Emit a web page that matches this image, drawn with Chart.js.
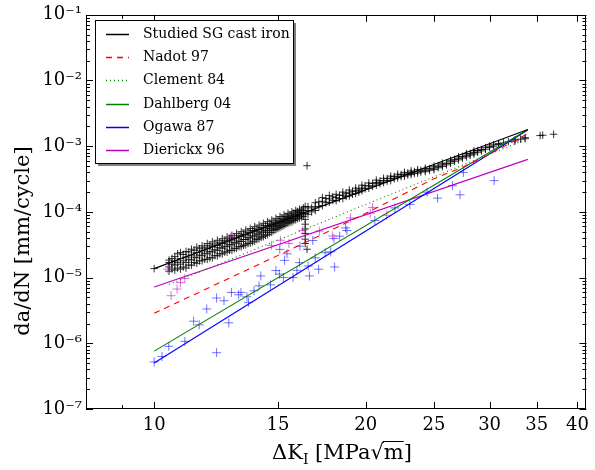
<!DOCTYPE html>
<html>
<head>
<meta charset="utf-8">
<script src="https://cdn.jsdelivr.net/npm/chart.js@4.4.0/dist/chart.umd.min.js"></script>
<style>
  html, body { margin: 0; padding: 0; background: #fff; }
  #wrap { width: 595px; height: 470px; }
</style>
</head>
<body>
<div id="wrap"><canvas id="crackChart" width="595" height="470"></canvas></div>
<script>
// tick labels
const xTickValues = [10, 15, 20, 25, 30, 35, 40];
const xTickLabels = ['10', '15', '20', '25', '30', '35', '40'];
const xMinorTicks = [9];
const yTickValues = [1e-7, 1e-6, 1e-5, 1e-4, 1e-3, 1e-2, 1e-1];
const yTickLabels = ['10\u207B\u2077', '10\u207B\u2076', '10\u207B\u2075', '10\u207B\u2074', '10\u207B\u00B3', '10\u207B\u00B2', '10\u207B\u00B9'];

const seriesLabels = ['Studied SG cast iron', 'Nadot 97', 'Clement 84', 'Dahlberg 04', 'Ogawa 87', 'Dierickx 96'];
const seriesColors = ['#000000', '#ff0000', '#008000', '#008000', '#0000ff', '#bf00bf'];

// studied SG cast iron: dK values, each with the crack rates read at it
const studiedX = [10.0, 10.5, 10.6, 10.7, 10.8, 10.9, 11.0, 11.1, 11.2, 11.3, 11.4, 11.5, 11.6, 11.7, 11.8,
  11.9, 12.0, 12.1, 12.2, 12.3, 12.4, 12.5, 12.6, 12.7, 12.8, 12.9, 13.0, 13.1, 13.2, 13.3, 13.4, 13.5,
  13.6, 13.7, 13.8, 13.9, 14.0, 14.1, 14.2, 14.3, 14.4, 14.5, 14.6, 14.7, 14.8, 14.9, 15.0, 15.1, 15.2,
  15.3, 15.4, 15.5, 15.6, 15.7, 15.8, 15.9, 16.0, 16.1, 16.2, 16.3, 16.4, 16.5,
  16.55, 16.75, 16.95, 17.15, 17.35, 17.55, 17.75, 17.95, 18.15, 18.35, 18.55, 18.75, 18.95, 19.15, 19.35,
  19.55, 19.75, 19.95, 20.2, 20.45, 20.7, 20.95, 21.2, 21.45, 21.7, 21.95, 22.2, 22.45, 22.7, 22.95, 23.2,
  23.45, 23.7, 23.95, 24.3, 24.65, 25.0, 25.35, 25.7, 26.05, 26.4, 26.75, 27.1, 27.45, 27.8, 28.15, 28.5,
  28.85, 29.2, 29.6, 30.0, 30.4, 30.9, 31.4, 31.9, 32.6, 33.2, 33.7, 35.4, 35.7, 37.0];
const studiedY = [
  [1.37e-5], [1.25e-5, 1.45e-5, 1.7e-5, 1.85e-5], [1.35e-5, 1.6e-5, 1.95e-5], [1.3e-5, 1.55e-5, 1.8e-5, 2.1e-5],
  [1.4e-5, 1.7e-5, 2.3e-5], [1.35e-5, 1.6e-5, 1.95e-5, 2.4e-5], [1.45e-5, 1.8e-5, 2.25e-5],
  [1.4e-5, 1.7e-5, 2.05e-5, 2.5e-5], [1.55e-5, 1.9e-5, 2.45e-5], [1.55e-5, 1.85e-5, 2.2e-5, 2.7e-5],
  [1.7e-5, 2.05e-5, 2.6e-5], [1.65e-5, 2.0e-5, 2.4e-5, 2.9e-5], [1.8e-5, 2.2e-5, 2.75e-5],
  [1.8e-5, 2.15e-5, 2.55e-5, 3.05e-5], [1.9e-5, 2.35e-5, 2.9e-5], [1.9e-5, 2.3e-5, 2.75e-5, 3.3e-5],
  [2.0e-5, 2.5e-5, 3.1e-5], [2.0e-5, 2.45e-5, 2.95e-5, 3.5e-5], [2.15e-5, 2.65e-5, 3.25e-5],
  [2.15e-5, 2.6e-5, 3.1e-5, 3.7e-5], [2.3e-5, 2.85e-5, 3.45e-5], [2.3e-5, 2.8e-5, 3.3e-5, 3.9e-5],
  [2.45e-5, 3.0e-5, 3.65e-5], [2.45e-5, 2.95e-5, 3.5e-5, 4.15e-5], [2.6e-5, 3.2e-5, 3.9e-5],
  [2.6e-5, 3.15e-5, 3.75e-5, 4.4e-5], [2.75e-5, 3.4e-5, 4.1e-5], [2.8e-5, 3.35e-5, 4.0e-5, 4.7e-5],
  [2.95e-5, 3.6e-5, 4.35e-5], [2.95e-5, 3.55e-5, 4.25e-5, 5.0e-5], [3.1e-5, 3.8e-5, 4.6e-5],
  [3.15e-5, 3.8e-5, 4.5e-5, 5.3e-5], [3.3e-5, 4.05e-5, 4.9e-5], [3.35e-5, 4.0e-5, 4.8e-5, 5.6e-5],
  [3.5e-5, 4.3e-5, 5.2e-5], [3.6e-5, 4.3e-5, 5.1e-5, 5.95e-5], [3.8e-5, 4.6e-5, 5.5e-5],
  [3.9e-5, 4.6e-5, 5.4e-5, 6.3e-5], [4.1e-5, 4.9e-5, 5.8e-5], [4.2e-5, 4.95e-5, 5.7e-5, 6.7e-5],
  [4.4e-5, 5.2e-5, 6.2e-5], [4.5e-5, 5.3e-5, 6.05e-5, 7.1e-5], [4.8e-5, 5.6e-5, 6.6e-5],
  [4.9e-5, 5.7e-5, 6.4e-5, 7.5e-5], [5.2e-5, 6.0e-5, 7.0e-5], [5.4e-5, 6.2e-5, 6.8e-5, 8.0e-5],
  [5.6e-5, 6.5e-5, 7.5e-5], [5.8e-5, 6.6e-5, 7.2e-5, 8.5e-5], [6.0e-5, 6.9e-5, 8.0e-5],
  [6.2e-5, 7.1e-5, 7.7e-5, 9.0e-5], [6.5e-5, 7.4e-5, 8.5e-5], [6.7e-5, 7.6e-5, 8.2e-5, 9.5e-5],
  [6.9e-5, 7.9e-5, 9.0e-5], [7.1e-5, 8.0e-5, 8.7e-5, 1.0e-4], [7.4e-5, 8.4e-5, 9.6e-5],
  [7.6e-5, 8.5e-5, 9.2e-5, 1.05e-4], [7.9e-5, 8.9e-5, 1.01e-4], [8.1e-5, 9.0e-5, 9.8e-5, 1.1e-4],
  [8.4e-5, 9.4e-5, 1.06e-4], [8.6e-5, 9.6e-5, 1.04e-4, 1.15e-4],
  [1.21e-4, 9.5e-5, 7.7e-5, 6.5e-5, 5.5e-5, 4.7e-5, 3.85e-5, 3.3e-5], [2.7e-5, 5.05e-4],
  [0.92e-4, 1.05e-4, 1.2e-4], [1.0e-4, 1.15e-4], [1.05e-4, 1.2e-4, 1.38e-4], [1.2e-4, 1.42e-4],
  [1.25e-4, 1.45e-4, 1.65e-4], [1.38e-4, 1.6e-4], [1.4e-4, 1.58e-4, 1.78e-4], [1.5e-4, 1.7e-4],
  [1.48e-4, 1.65e-4, 1.85e-4], [1.6e-4, 1.78e-4], [1.6e-4, 1.8e-4, 2.0e-4], [1.72e-4, 1.92e-4],
  [1.75e-4, 1.95e-4, 2.15e-4], [1.85e-4, 2.05e-4], [1.9e-4, 2.1e-4, 2.3e-4], [2.0e-4, 2.22e-4],
  [2.1e-4, 2.3e-4, 2.55e-4], [2.25e-4, 2.5e-4], [2.3e-4, 2.5e-4, 2.75e-4], [2.45e-4, 2.7e-4],
  [2.55e-4, 2.8e-4, 3.05e-4], [2.7e-4, 2.95e-4], [2.8e-4, 3.0e-4, 3.25e-4], [2.95e-4, 3.2e-4],
  [3.0e-4, 3.25e-4, 3.5e-4], [3.2e-4, 3.45e-4], [3.3e-4, 3.5e-4, 3.75e-4], [3.45e-4, 3.7e-4],
  [3.5e-4, 3.75e-4, 4.0e-4], [3.65e-4, 3.9e-4], [3.7e-4, 3.95e-4, 4.2e-4], [3.85e-4, 4.1e-4],
  [3.9e-4, 4.15e-4, 4.4e-4], [4.05e-4, 4.3e-4], [4.1e-4, 4.35e-4, 4.6e-4], [4.3e-4, 4.55e-4],
  [4.4e-4, 4.65e-4, 4.95e-4], [4.7e-4, 5.0e-4], [4.9e-4, 5.2e-4, 5.5e-4], [5.2e-4, 5.5e-4],
  [5.5e-4, 5.8e-4, 6.1e-4], [5.9e-4, 6.3e-4], [6.2e-4, 6.55e-4, 6.9e-4], [6.6e-4, 7.0e-4],
  [6.9e-4, 7.3e-4, 7.7e-4], [7.3e-4, 7.7e-4], [7.6e-4, 8.0e-4, 8.5e-4], [8.1e-4, 8.6e-4],
  [8.5e-4, 8.9e-4], [9.0e-4, 9.5e-4], [9.6e-4, 1.0e-3], [1.0e-3, 1.05e-3], [1.06e-3, 1.1e-3],
  [1.12e-3], [1.17e-3], [1.2e-3, 1.25e-3], [1.28e-3], [1.3e-3, 1.35e-3], [1.45e-3], [1.47e-3], [1.52e-3]];

// Ogawa 87 data (blue crosses)
const ogawaX = [10.0, 10.26, 10.49, 11.06, 12.27, 11.38, 11.59, 11.88, 12.27, 12.57, 12.77, 12.88, 13.19, 13.29,
  13.55, 13.62, 13.87, 14.1, 14.18, 14.64, 14.9, 15.07, 15.09, 15.33, 15.45, 15.27, 15.76, 15.96, 16.09,
  16.12, 16.63, 16.56, 16.81, 16.95, 17.14, 17.51, 17.83, 18.02, 18.06, 18.36, 18.72, 18.8, 20.6, 22.0,
  23.1, 24.45, 25.3, 26.57, 27.23, 27.53, 30.45];
const ogawaY = [5.2e-7, 6.3e-7, 9.0e-7, 1.07e-6, 7.2e-7, 2.17e-6, 1.91e-6, 3.33e-6, 4.89e-6, 4.45e-6, 2.05e-6, 5.94e-6, 5.48e-6, 5.94e-6,
  5.11e-6, 4.2e-6, 6.3e-6, 7.5e-6, 1.06e-5, 7.77e-6, 1.28e-5, 1.13e-5, 2.69e-5, 1.83e-5, 2.3e-5, 1.0e-5, 1.0e-5, 1.29e-5, 1.69e-5,
  3.01e-5, 1.06e-5, 1.5e-5, 3.67e-5, 2.0e-5, 1.34e-5, 2.39e-5, 2.47e-5, 3.94e-5, 1.45e-5, 4.27e-5, 5.7e-5, 5.2e-5, 7.4e-5, 1.15e-4,
  1.3e-4, 1.99e-4, 1.62e-4, 2.51e-4, 1.82e-4, 3.99e-4, 2.99e-4];

// Dierickx 96 data (magenta crosses)
const dierickxX = [10.46, 10.9, 11.06, 10.78, 10.57, 12.84, 14.69, 15.12, 15.55, 16.27, 17.18, 17.93, 19.02, 20.45, 20.3, 21.42];
const dierickxY = [1.34e-5, 8.4e-6, 9.7e-6, 6.7e-6, 5.3e-6, 4.1e-5, 3.1e-5, 3.7e-5, 3.3e-5, 5.2e-5, 5.1e-5, 4.3e-5, 8.1e-5, 1.17e-4, 9.6e-5, 8.9e-5];

// fitted laws
const studiedFitX = [10, 34];
const studiedFitY = [1.37e-5, 1.8e-3];
const nadotX = [10, 15.9, 20, 25, 27.6, 29.8, 34];
const nadotY = [2.86e-6, 2.91e-5, 9.5e-5, 3.2e-4, 4.9e-4, 7.3e-4, 1.55e-3];
const clementX = [10.5, 34];
const clementY = [7.9e-6, 1.3e-3];
const dahlbergX = [10, 34];
const dahlbergY = [7.6e-7, 1.8e-3];
const ogawaFitX = [10, 34];
const ogawaFitY = [5.0e-7, 1.76e-3];
const dierickxFitX = [10, 34];
const dierickxFitY = [7.2e-6, 6.3e-4];

const FONT = 'DejaVu Serif';

function pairs(xs, ys) {
    return xs.map(function (v, i) { return { x: v, y: ys[i] }; });
}

function groupedPairs(xs, groups) {
    const out = [];
    xs.forEach(function (v, i) {
        groups[i].forEach(function (g) { out.push({ x: v, y: g }); });
    });
    return out;
}

function lineSet(i, xs, ys, dash) {
    return {
        label: seriesLabels[i],
        data: pairs(xs, ys),
        showLine: true,
        borderColor: seriesColors[i],
        borderWidth: 1.1,
        borderDash: dash,
        pointRadius: 0,
        fill: false,
        order: i + 1
    };
}

function crossSet(data, color, radius, order) {
    return {
        label: '',
        data: data,
        showLine: false,
        pointStyle: 'cross',
        pointRadius: radius,
        borderColor: color,
        pointBorderWidth: 1,
        order: order
    };
}

const lineSets = [
    lineSet(0, studiedFitX, studiedFitY, []),
    lineSet(1, nadotX, nadotY, [6, 5]),
    lineSet(2, clementX, clementY, [1, 3]),
    lineSet(3, dahlbergX, dahlbergY, []),
    lineSet(4, ogawaFitX, ogawaFitY, []),
    lineSet(5, dierickxFitX, dierickxFitY, [])
];

// frame, inward ticks, titles and boxed legend
const framePlugin = {
    id: 'framePlugin',
    afterDraw: function (chart) {
        const ctx = chart.ctx;
        const a = chart.chartArea;
        const xs = chart.scales.x;
        const ys = chart.scales.y;
        ctx.save();
        ctx.strokeStyle = '#000';
        ctx.lineWidth = 1;
        ctx.setLineDash([]);
        ctx.strokeRect(Math.round(a.left) + 0.5, Math.round(a.top) + 0.5,
            Math.round(a.right - a.left) - 1, Math.round(a.bottom - a.top) - 1);

        function xTick(v, len) {
            const px = Math.round(xs.getPixelForValue(v)) + 0.5;
            ctx.beginPath();
            ctx.moveTo(px, a.bottom); ctx.lineTo(px, a.bottom - len);
            ctx.moveTo(px, a.top); ctx.lineTo(px, a.top + len);
            ctx.stroke();
        }
        function yTick(v, len) {
            const py = Math.round(ys.getPixelForValue(v)) + 0.5;
            ctx.beginPath();
            ctx.moveTo(a.left, py); ctx.lineTo(a.left + len, py);
            ctx.moveTo(a.right, py); ctx.lineTo(a.right - len, py);
            ctx.stroke();
        }
        xTickValues.forEach(function (v) { xTick(v, 7); });
        xMinorTicks.forEach(function (v) { xTick(v, 4); });
        for (let d = -7; d < -1; d++) {
            for (let m = 2; m <= 9; m++) yTick(m * Math.pow(10, d), 4);
        }
        yTickValues.forEach(function (v) { yTick(v, 7); });

        // y title
        ctx.fillStyle = '#000';
        ctx.save();
        ctx.translate(24, 241);
        ctx.rotate(-Math.PI / 2);
        ctx.font = '21px "' + FONT + '"';
        ctx.textAlign = 'center';
        ctx.textBaseline = 'middle';
        ctx.fillText('da/dN [mm/cycle]', 0, 0);
        ctx.restore();

        // x title: dK_I [MPa sqrt(m)]
        const big = '21px "' + FONT + '"';
        const small = '14px "' + FONT + '"';
        ctx.textBaseline = 'alphabetic';
        ctx.textAlign = 'left';
        ctx.font = big;
        const w1 = ctx.measureText('\u0394K').width;
        const w3 = ctx.measureText(' [MPa\u221A').width;
        const wm = ctx.measureText('m').width;
        const w4 = ctx.measureText(']').width;
        ctx.font = small;
        const w2 = ctx.measureText('I').width;
        const total = w1 + w2 + w3 + wm + w4;
        let cx = 342 - total / 2;
        const base = 459;
        ctx.font = big;
        ctx.fillText('\u0394K', cx, base); cx += w1;
        ctx.font = small;
        ctx.fillText('I', cx, base + 5); cx += w2;
        ctx.font = big;
        ctx.fillText(' [MPa\u221A', cx, base); cx += w3;
        ctx.fillText('m', cx, base);
        ctx.beginPath();
        ctx.moveTo(cx - 1, base - 17.5); ctx.lineTo(cx + wm, base - 17.5);
        ctx.stroke();
        cx += wm;
        ctx.fillText(']', cx, base);

        // legend box
        const bx = 95, by = 20, bw = 198, bh = 143;
        ctx.fillStyle = 'rgba(0,0,0,0.5)';
        ctx.fillRect(bx + 3, by + 3, bw, bh);
        ctx.fillStyle = '#fff';
        ctx.fillRect(bx, by, bw, bh);
        ctx.strokeStyle = '#000';
        ctx.strokeRect(bx + 0.5, by + 0.5, bw, bh);
        ctx.font = '14px "' + FONT + '"';
        ctx.textBaseline = 'middle';
        lineSets.forEach(function (ds, i) {
            const ry = Math.round(34 + i * 23.2) + 0.5;
            ctx.strokeStyle = seriesColors[i];
            ctx.lineWidth = 1.5;
            ctx.setLineDash(ds.borderDash);
            ctx.beginPath();
            ctx.moveTo(106, ry); ctx.lineTo(129, ry);
            ctx.stroke();
            ctx.setLineDash([]);
            ctx.fillStyle = '#000';
            ctx.fillText(seriesLabels[i], 143, ry);
        });
        ctx.restore();
    }
};

const datasets = lineSets.concat([
    crossSet(groupedPairs(studiedX, studiedY), 'rgba(0,0,0,0.8)', 3.8, 9),
    crossSet(pairs(ogawaX, ogawaY), 'rgba(0,0,255,0.55)', 4.5, 8),
    crossSet(pairs(dierickxX, dierickxY), 'rgba(191,0,191,0.55)', 4.5, 7)
]);

const ctx = document.getElementById('crackChart').getContext('2d');
new Chart(ctx, {
    type: 'scatter',
    data: { datasets: datasets },
    options: {
        responsive: false,
        animation: false,
        devicePixelRatio: 1,
        layout: { padding: { top: 12, right: 1, left: 0, bottom: 0 } },
        plugins: {
            legend: { display: false },
            tooltip: { enabled: false }
        },
        scales: {
            x: {
                type: 'logarithmic',
                min: 8,
                max: 41.2,
                grid: { display: false, drawTicks: false },
                border: { display: false },
                afterBuildTicks: function (scale) {
                    scale.ticks = xTickValues.map(function (v) { return { value: v }; });
                },
                afterFit: function (scale) { scale.height = 61; },
                ticks: {
                    autoSkip: false,
                    maxRotation: 0,
                    padding: 6,
                    color: '#000',
                    font: { family: FONT, size: 18 },
                    callback: function (value, index) { return xTickLabels[index]; }
                }
            },
            y: {
                type: 'logarithmic',
                min: 1e-7,
                max: 1e-1,
                grid: { display: false, drawTicks: false },
                border: { display: false },
                afterBuildTicks: function (scale) {
                    scale.ticks = yTickValues.map(function (v) { return { value: v }; });
                },
                afterFit: function (scale) { scale.width = 86; },
                ticks: {
                    autoSkip: false,
                    padding: 4,
                    color: '#000',
                    font: { family: FONT, size: 18 },
                    callback: function (value, index) { return yTickLabels[index]; }
                }
            }
        }
    },
    plugins: [framePlugin]
});
</script>
</body>
</html>
